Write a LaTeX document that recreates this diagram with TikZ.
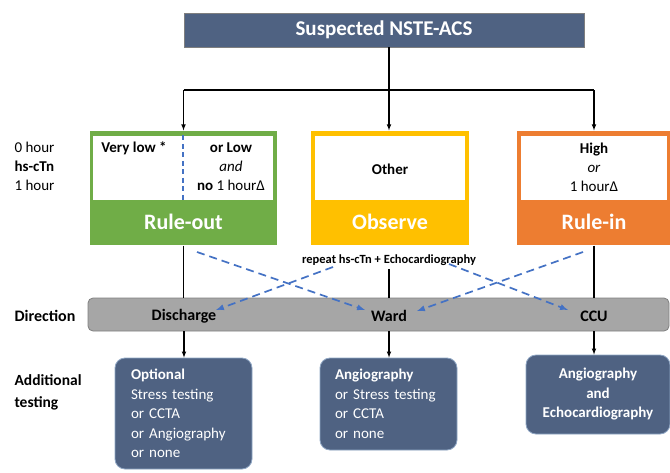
\documentclass[tikz,border=0pt]{standalone}
\usepackage{fontspec}
\setmainfont{Carlito}

\definecolor{slate}{HTML}{4F6282}
\definecolor{boxedge}{HTML}{8FA6C4}
\definecolor{rgreen}{HTML}{70AD47}
\definecolor{ryellow}{HTML}{FFC000}
\definecolor{rorange}{HTML}{ED7D31}
\definecolor{dblue}{HTML}{4472C4}
\definecolor{bargray}{HTML}{A6A6A6}
\definecolor{bardark}{HTML}{7F7F7F}

\begin{document}
\begin{tikzpicture}[x=1pt, y=-1pt, >=latex, line width=1.1pt,
  txt/.style={font=\fontsize{15}{19}\selectfont, inner sep=0pt},
  dirtxt/.style={font=\bfseries\fontsize{16}{19}\selectfont, inner sep=0pt},
  band/.style={text=white, font=\bfseries\fontsize{22}{26}\selectfont, inner sep=0pt},
  outer/.style={minimum height=114pt, inner sep=0pt},
  inner/.style={fill=white, minimum height=64pt, inner sep=0pt},
  testbox/.style={draw=boxedge, fill=slate, rounded corners=10pt, line width=0.8pt, text=white, font=\fontsize{15}{19.5}\selectfont},
  flow/.style={->, draw=dblue, dash pattern=on 8pt off 5pt, line width=1.7pt}]

\useasboundingbox (0,0) rectangle (670,472);

\node (acs) at (384, 30) [draw=bardark, fill=slate, minimum width=400pt, minimum height=34pt, text=white, font=\bfseries\fontsize{21}{25}\selectfont, line width=0.6pt] {Suspected NSTE-ACS};

% risk boxes
\node (ruleout) at (183.5, 188) [outer, fill=rgreen, minimum width=187pt] {};
\node (ruleoutw) at (183, 168) [inner, minimum width=180pt] {};
\node (observe) at (390, 188) [outer, fill=ryellow, minimum width=158pt] {};
\node (observew) at (390, 168) [inner, minimum width=150pt] {};
\node (rulein) at (594, 188) [outer, fill=rorange, minimum width=154pt] {};
\node (ruleinw) at (594, 168) [inner, minimum width=146pt] {};

\node (ruleoutlbl) at (183.5, 222) [band] {Rule-out};
\node (observelbl) at (390, 222) [band] {Observe};
\node (ruleinlbl) at (594, 222) [band] {Rule-in};

\node (verylow) at (134, 148) [txt] {\textbf{Very low *}};
\node (orlow) at (231, 167) [txt, align=center] {\textbf{or Low}\\\textit{and}\\\textbf{no} 1 hourΔ};
\node (other) at (390, 169) [txt] {\textbf{Other}};
\node (high) at (594, 167) [txt, align=center] {\textbf{High}\\\textit{or}\\1 hourΔ};
\draw[dblue, dash pattern=on 5pt off 3.5pt, line width=1.2pt] (ruleoutw.north) -- (ruleoutw.south);

\node (hours) at (14, 166) [txt, anchor=west, align=left] {0 hour\\\textbf{hs-cTn}\\1 hour};

% direction
\node (direction) at (14, 316) [dirtxt, anchor=west] {Direction};
\node (bar) at (378.5, 314.5) [draw=bardark, fill=bargray, rounded corners=5pt, minimum width=581pt, minimum height=33pt, line width=0.8pt] {};
\node (discharge) at (184, 316) [dirtxt] {Discharge};
\node (ward) at (389, 316) [dirtxt] {Ward};
\node (ccu) at (594, 316) [dirtxt] {CCU};
\node (repeat) at (389, 260) [font=\bfseries\fontsize{12.5}{15}\selectfont, inner sep=3pt] {repeat hs-cTn + Echocardiography};

% additional testing
\node (additional) at (14, 392) [anchor=west, align=left, inner sep=0pt, font=\bfseries\fontsize{15.5}{22}\selectfont] {Additional\\testing};
\node (optional) at (183.5, 413.5) [testbox, minimum width=137pt, minimum height=111pt, text width=105pt, inner xsep=16pt, align=left] {\textbf{Optional}\\Stress testing\\or CCTA\\or Angiography\\or none};
\node (angio) at (388.5, 404) [testbox, minimum width=137pt, minimum height=92pt, text width=107pt, inner xsep=15pt, align=left] {\textbf{Angiography}\\or Stress testing\\or CCTA\\or none};
\node (angioecho) at (598, 394.5) [testbox, minimum width=144pt, minimum height=79pt, align=center] {\textbf{Angiography}\\\textbf{and}\\\textbf{Echocardiography}};

% connectors
\coordinate (split) at (389, 90);
\draw (acs.south -| split) -- (split);
\draw (ruleout.north |- split) -- (rulein.north |- split);
\path[->] (ruleout.north |- split) edge (ruleout.north);
\path[->] (split) edge (split |- observe.north);
\path[->] (rulein.north |- split) edge (rulein.north);

\draw (ruleout.south) -- (ruleout.south |- bar.north);
\draw (rulein.south) -- (rulein.south |- bar.north);
\draw (repeat.south) -- (repeat.south |- bar.north);

\path[->] (bar.south -| discharge) edge (discharge |- optional.north);
\path[->] (bar.south -| ward) edge (ward |- angio.north);
\path[->] (bar.south -| ccu) edge (ccu |- angioecho.north);

\coordinate (d1) at (197, 252);
\coordinate (d2) at (333, 267);
\coordinate (d3) at (583, 252);
\coordinate (d4) at (449, 264);
\coordinate (e1) at (365, 310);
\coordinate (e2) at (216, 310);
\coordinate (e3) at (417, 311);
\coordinate (e4) at (568, 310);
\draw[flow] (d1) -- (e1);
\draw[flow] (d2) -- (e2);
\draw[flow] (d3) -- (e3);
\draw[flow] (d4) -- (e4);

\end{tikzpicture}
\end{document}
